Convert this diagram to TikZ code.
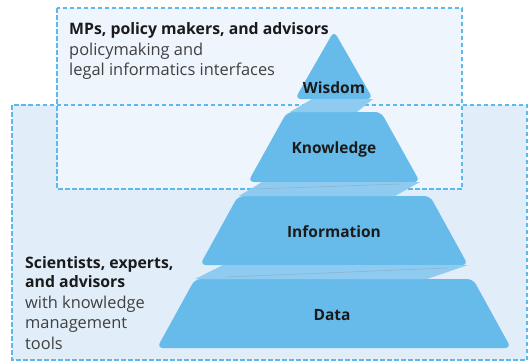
\documentclass[tikz,border=0pt]{standalone}
\usepackage{fontspec}
\setmainfont{Open Sans}
\definecolor{layer}{HTML}{67BBEA}
\definecolor{ribbon}{HTML}{8FCBF0}
\definecolor{outerfill}{HTML}{E1EEFA}
\definecolor{innerfill}{HTML}{EEF5FC}
\definecolor{dashline}{HTML}{5CB9EE}
\definecolor{ink}{HTML}{1A1A1A}
\definecolor{softink}{HTML}{404040}
\begin{document}
\begin{tikzpicture}[x=1pt,y=-1pt,
  zone/.style={draw=dashline, line width=1.6pt, dash pattern=on 4.5pt off 2.5pt},
  tier/.style={fill=layer, rounded corners=6pt},
  fold/.style={fill=ribbon},
  seam/.style={draw=gray, line width=0.5pt, opacity=0.35},
  tierlabel/.style={font=\fontsize{15.5}{18}\selectfont\bfseries, text=ink, anchor=base, inner sep=0pt},
  heading/.style={font=\fontsize{15.8}{18}\selectfont\bfseries, text=ink, anchor=base west, inner sep=0pt},
  caption/.style={font=\fontsize{16.4}{18}\selectfont, text=softink, anchor=base west, inner sep=0pt},
]
\useasboundingbox (0,0) rectangle (530,362);
\fill[white] (0,0) rectangle (530,362);

% audience zones: fills first, then both dashed borders on top
\fill[outerfill] (12,105) rectangle (527,360);
\fill[innerfill] (57,8) rectangle (462,189);
\draw[zone] (12,105) rectangle (527,360);
\draw[zone] (57,8) rectangle (462,189);

% pyramid tiers
\path[tier] (295,99) -- (334,31) -- (373,99) -- cycle;
\path[tier] (248,182) -- (287,112) -- (381,112) -- (420,182) -- cycle;
\path[tier] (200,265) -- (238,196) -- (430,196) -- (468,265) -- cycle;
\path[tier] (157,348) -- (195,279) -- (473,279) -- (511,348) -- cycle;

% folded ribbons joining the tiers
\path[fold] (312,99) -- (373,99) -- (357,112) -- (290,112) -- cycle;
\path[fold] (262,182) -- (420,182) -- (395,196) -- (239,196) -- cycle;
\path[fold] (223,265) -- (468,265) -- (427,279) -- (195,279) -- cycle;
\draw[seam] (256,189) -- (400,184);
\draw[seam] (227,277) -- (447,268);

% tier labels
\node[tierlabel] (wisdom) at (334,93) {Wisdom};
\node[tierlabel] (knowledge) at (334,153) {Knowledge};
\node[tierlabel] (information) at (334,237) {Information};
\node[tierlabel] (data) at (332,320) {Data};

% audience descriptions
\node[heading] (mps) at (69,34) {MPs, policy makers, and advisors};
\node[caption] (mps1) at (69,55) {policymaking and};
\node[caption] (mps2) at (69,75) {legal informatics interfaces};

\node[heading] (sci1) at (25,268) {Scientists, experts,};
\node[heading] (sci2) at (25,287) {and advisors};
\node[caption] (sci3) at (25,308) {with knowledge};
\node[caption] (sci4) at (25,328) {management};
\node[caption] (sci5) at (25,349) {tools};
\end{tikzpicture}
\end{document}
